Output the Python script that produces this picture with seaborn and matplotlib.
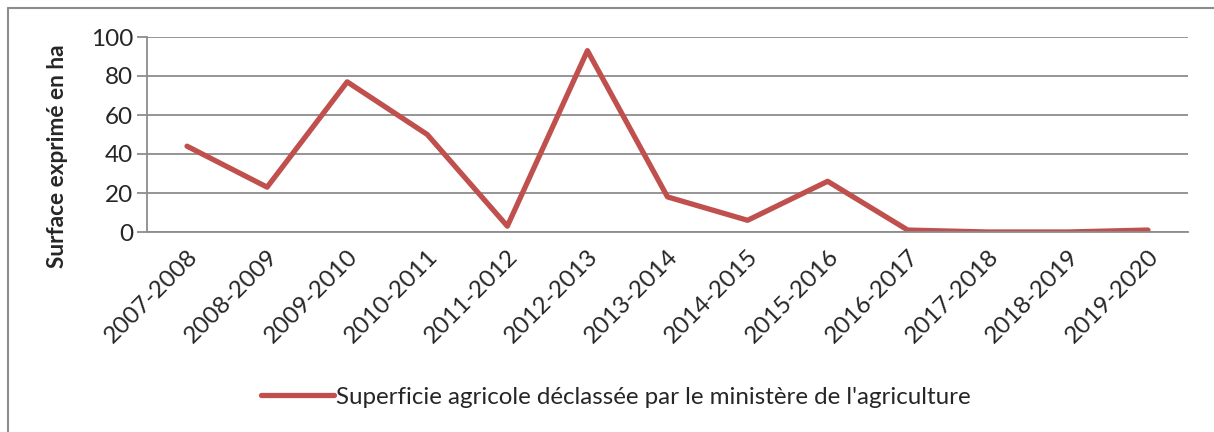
import numpy as np
import pandas as pd
import matplotlib
matplotlib.use("Agg")
import matplotlib.pyplot as plt
from matplotlib.lines import Line2D
import seaborn as sns

# Donnees
periodes = ["2007-2008", "2008-2009", "2009-2010", "2010-2011", "2011-2012",
            "2012-2013", "2013-2014", "2014-2015", "2015-2016", "2016-2017",
            "2017-2018", "2018-2019", "2019-2020"]
superficie = [44, 23, 77, 50, 3, 93, 18, 6, 26, 1, 0, 0, 1]
yticks = [0, 20, 40, 60, 80, 100]
serie = "Superficie agricole déclassée par le ministère de l'agriculture"

sns.set_theme(style="white")
plt.rcParams['font.family'] = ['Lato', 'DejaVu Sans']

W, H = 1214, 432
fig = plt.figure(figsize=(W / 100, H / 100), dpi=100)
ax = fig.add_axes([147 / W, 1 - 232 / H, (1188 - 147) / W, (232 - 37) / H])

df = pd.DataFrame({"periode": periodes, "surface": superficie})
sns.lineplot(data=df, x="periode", y="surface", ax=ax, color="#C0504D",
             linewidth=3.8, label=serie, legend=False, sort=False)

grey = "#8c8c8c"
ax.set_xlim(-0.5, len(periodes) - 0.5)
ax.set_ylim(0, 100)
ax.set_yticks(yticks)
ax.yaxis.grid(True, color=grey, linewidth=1.3)
ax.set_axisbelow(True)
for s in ["top", "right"]:
    ax.spines[s].set_visible(False)
for s in ["left", "bottom"]:
    ax.spines[s].set_color(grey)
    ax.spines[s].set_linewidth(1.3)

# ticks aux limites des categories, etiquettes au centre
ax.set_xticks(np.arange(len(periodes)))
ax.set_xticklabels(periodes, rotation=45, ha="right", rotation_mode="anchor")
ax.set_xticks(np.arange(-0.5, len(periodes)), minor=True)
ax.tick_params(axis="x", which="major", length=0, labelsize=17.5, pad=10)
ax.tick_params(axis="x", which="minor", length=7, width=1.3, color=grey, direction="out")
ax.tick_params(axis="y", length=7, width=1.3, color=grey, labelsize=17.5, pad=3, left=True)
ax.set_xlabel("")
ax.set_ylabel("")

fig.text(58 / W, 1 - 156 / H, "Surface exprimé en ha", rotation=90,
         ha="center", va="center", fontsize=16.3, fontweight="bold")

handles = [Line2D([0], [0], color="#C0504D", linewidth=3.8)]
fig.legend(handles, [serie], loc="center", bbox_to_anchor=(616 / W, 1 - 397 / H),
           frameon=False, fontsize=17.4, handlelength=3.0, handletextpad=0.1)

# cadre exterieur
fig.add_artist(Line2D([8 / W, 8 / W], [0, 1 - 8 / H], color=grey, linewidth=1.5,
                      transform=fig.transFigure))
fig.add_artist(Line2D([8 / W, 1], [1 - 8 / H, 1 - 8 / H], color=grey, linewidth=1.5,
                      transform=fig.transFigure))

fig.savefig("out.png", dpi=100, facecolor="white")
